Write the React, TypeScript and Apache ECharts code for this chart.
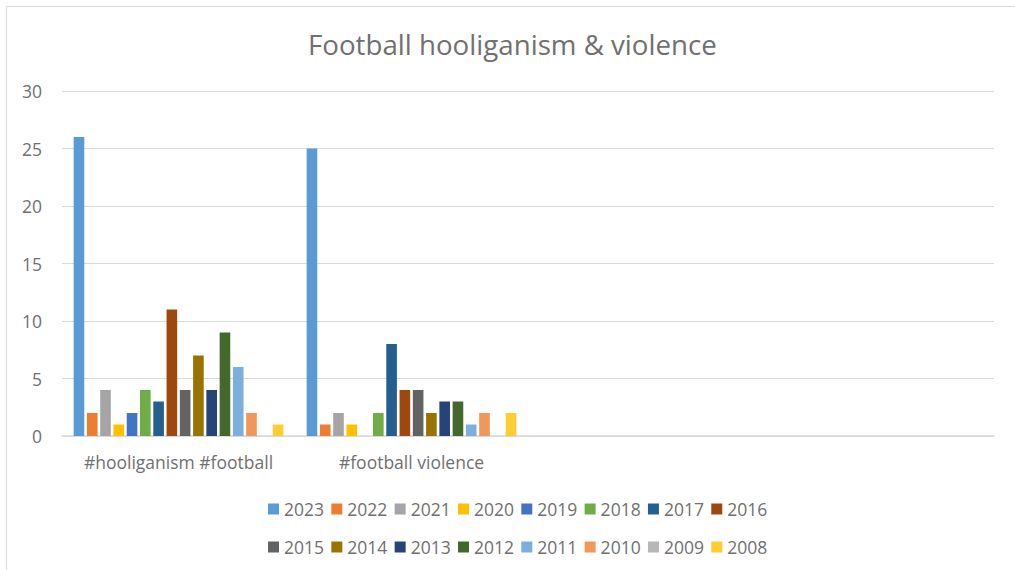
import React, { useEffect, useRef } from "react";
import * as echarts from "echarts";

const categories = ["#hooliganism #football", "#football violence", "", " "];
const years = ["2023", "2022", "2021", "2020", "2019", "2018", "2017", "2016", "2015", "2014", "2013", "2012", "2011", "2010", "2009", "2008"];
const hooliganismFootball = [26, 2, 4, 1, 2, 4, 3, 11, 4, 7, 4, 9, 6, 2, 0, 1];
const footballViolence = [25, 1, 2, 1, 0, 2, 8, 4, 4, 2, 3, 3, 1, 2, 0, 2];
const colors = ["#5B9BD5", "#ED7D31", "#A5A5A5", "#FFC000", "#4472C4", "#70AD47", "#255E91", "#9E480E", "#636363", "#997300", "#264478", "#43682B", "#7CAFDD", "#F1975A", "#B7B7B7", "#FFCD33"];
const yTicks = { min: 0, max: 30, interval: 5 };

const FONT = "Open Sans";
const TXT = "#707070";

export default function App() {
  const ref = useRef<HTMLDivElement>(null);
  useEffect(() => {
    if (!ref.current) return;
    const chart = echarts.init(ref.current, null, { renderer: "svg" });
    const series = years.map((y, i) => ({
      name: y,
      type: "bar",
      data: [hooliganismFootball[i], footballViolence[i], null, null],
      itemStyle: { color: colors[i] },
      barGap: "25%",
      barCategoryGap: "10%",
    }));
    const legendText = { color: TXT, fontSize: 17.5, fontFamily: FONT };
    chart.setOption({
      animation: false,
      color: colors,
      textStyle: { fontFamily: FONT },
      title: {
        text: "Football hooliganism & violence",
        left: 303,
        top: 25,
        textStyle: { color: TXT, fontSize: 27.7, fontWeight: "normal", fontFamily: FONT },
      },
      graphic: [
        {
          type: "rect",
          shape: { x: 6.5, y: 6.5, width: 1030, height: 600 },
          style: { fill: "none", stroke: "#D9D9D9", lineWidth: 1 },
          silent: true,
        },
      ],
      grid: { left: 62, right: 21, top: 91, bottom: 134, containLabel: false },
      legend: [
        {
          data: years.slice(0, 8),
          left: 263,
          top: 495,
          itemWidth: 11,
          itemHeight: 11,
          itemGap: 7.3,
          icon: "rect",
          textStyle: legendText,
        },
        {
          data: years.slice(8),
          left: 263,
          top: 533,
          itemWidth: 11,
          itemHeight: 11,
          itemGap: 7.3,
          icon: "rect",
          textStyle: legendText,
        },
      ],
      xAxis: {
        type: "category",
        data: categories,
        axisLine: { lineStyle: { color: "#D9D9D9", width: 1.5 } },
        axisTick: { show: false },
        axisLabel: { color: TXT, fontSize: 17.5, fontFamily: FONT, margin: 17, interval: 0 },
      },
      yAxis: {
        type: "value",
        min: yTicks.min,
        max: yTicks.max,
        interval: yTicks.interval,
        axisLine: { show: false },
        axisTick: { show: false },
        splitLine: { lineStyle: { color: "#D9D9D9", width: 1 } },
        axisLabel: { color: TXT, fontSize: 17.5, fontFamily: FONT, margin: 20 },
      },
      series,
    });
    return () => chart.dispose();
  }, []);
  return (
    <div
      ref={ref}
      style={{ position: "fixed", left: 0, top: 0, width: 1015, height: 570, background: "#fff" }}
    />
  );
}
